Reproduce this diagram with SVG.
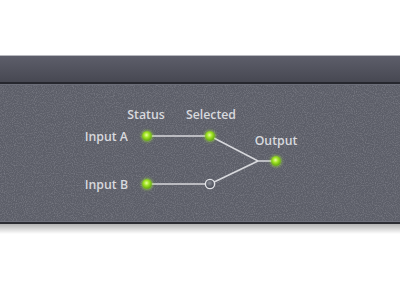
<svg xmlns="http://www.w3.org/2000/svg" width="400" height="300" viewBox="0 0 400 300">
<style>
.lbl{font-family:"Open Sans","Liberation Sans",sans-serif;font-size:12.3px;font-weight:600;fill:#d8d9de}
.wire{stroke:#d8d9dd;stroke-width:1.6;fill:none}
</style>
<defs>
<linearGradient id="bar" x1="0" y1="0" x2="0" y2="1">
<stop offset="0" stop-color="#5d5e6a"/>
<stop offset="1" stop-color="#464751"/>
</linearGradient>
<linearGradient id="shadow" x1="0" y1="0" x2="0" y2="1">
<stop offset="0" stop-color="#000" stop-opacity="0.3"/>
<stop offset="1" stop-color="#000" stop-opacity="0"/>
</linearGradient>
<radialGradient id="green" cx="0.45" cy="0.4" r="0.6">
<stop offset="0" stop-color="#eaff9e"/>
<stop offset="0.45" stop-color="#a0e424"/>
<stop offset="1" stop-color="#62a412"/>
</radialGradient>
<radialGradient id="off" cx="0.45" cy="0.4" r="0.6">
<stop offset="0" stop-color="#8a8d96"/>
<stop offset="0.6" stop-color="#5c5f6a"/>
<stop offset="1" stop-color="#474a55"/>
</radialGradient>
<filter id="noise" x="0" y="0" width="100%" height="100%">
<feTurbulence type="fractalNoise" baseFrequency="0.9" numOctaves="2" seed="3" result="n"/>
<feColorMatrix in="n" type="matrix" values="0 0 0 0 0.52  0 0 0 0 0.52  0 0 0 0 0.56  0 0 0 0.8 -0.32"/>
<feComposite in2="SourceGraphic" operator="in"/>
</filter>
<filter id="glow" x="-1" y="-1" width="3" height="3">
<feGaussianBlur stdDeviation="1.6"/>
</filter>
</defs>
<rect width="400" height="300" fill="#ffffff"/>
<g id="chassis">
<rect x="0" y="55" width="400" height="1" fill="#b8b9bf"/>
<rect x="0" y="56" width="400" height="27" fill="url(#bar)"/>
<rect x="0" y="82" width="400" height="2" fill="#26272e"/>
<rect x="0" y="84" width="400" height="1" fill="#6b6d78"/>
<rect x="0" y="85" width="400" height="138" fill="#5c5e68"/>
<rect x="0" y="85" width="400" height="138" fill="#5c5e68" filter="url(#noise)" opacity="0.75"/>
<rect x="0" y="221" width="400" height="1" fill="#70727d"/>
<rect x="0" y="222" width="400" height="2" fill="#2c2d33"/>
<rect x="0" y="224" width="400" height="10" fill="url(#shadow)"/>
</g>
<g id="connectors">
<line class="wire" x1="147" y1="136" x2="210" y2="136"/>
<line class="wire" x1="147" y1="184" x2="210" y2="184"/>
<polyline class="wire" points="210,136 258,161 276,161"/>
<polyline class="wire" points="210,184 258,161"/>
</g>
<g id="inputA">
<text class="lbl" x="128" y="140.5" text-anchor="end">Input A</text>
</g>
<g id="inputB">
<text class="lbl" x="128" y="188.5" text-anchor="end">Input B</text>
</g>
<g id="statusA">
<text class="lbl" x="146" y="119" text-anchor="middle">Status</text>
<circle cx="147" cy="136" r="5.5" fill="#a6f030" filter="url(#glow)" opacity="0.7"/>
<circle cx="147" cy="136" r="4.8" fill="url(#green)"/>
</g>
<g id="selectedA">
<text class="lbl" x="211" y="119" text-anchor="middle">Selected</text>
<circle cx="210" cy="136" r="5.5" fill="#a6f030" filter="url(#glow)" opacity="0.7"/>
<circle cx="210" cy="136" r="4.8" fill="url(#green)"/>
</g>
<g id="statusB">
<circle cx="147" cy="184" r="5.5" fill="#a6f030" filter="url(#glow)" opacity="0.7"/>
<circle cx="147" cy="184" r="4.8" fill="url(#green)"/>
</g>
<g id="selectedB">
<circle cx="210" cy="184" r="4.6" fill="url(#off)" stroke="#e2e3e7" stroke-width="1.4"/>
</g>
<g id="output">
<text class="lbl" x="276" y="145" text-anchor="middle">Output</text>
<circle cx="276" cy="161" r="5.5" fill="#a6f030" filter="url(#glow)" opacity="0.7"/>
<circle cx="276" cy="161" r="4.8" fill="url(#green)"/>
</g>
</svg>
